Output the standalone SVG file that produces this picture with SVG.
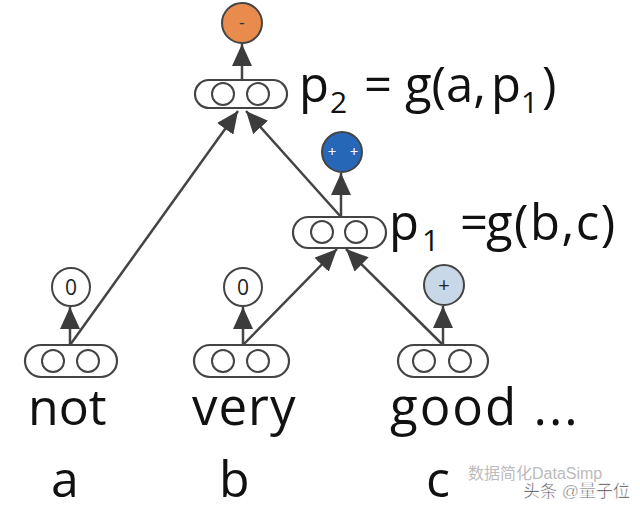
<svg xmlns="http://www.w3.org/2000/svg" width="640" height="514" viewBox="0 0 640 514">
<defs>
<style>
.cap{fill:#fff;stroke:#444;stroke-width:2.2}
.in{fill:#fff;stroke:#444;stroke-width:2}
.out{stroke:#444;stroke-width:2}
.edge{stroke:#444;stroke-width:2.5;fill:none;marker-end:url(#ah)}
.big{font-family:"Open Sans","Liberation Sans",sans-serif;fill:#111}
.sym{font-family:"Open Sans","Liberation Sans",sans-serif;text-anchor:middle}
</style>
<marker id="ah" markerUnits="userSpaceOnUse" markerWidth="22" markerHeight="20" refX="22" refY="10" orient="auto">
<path d="M0,0 L22,10 L0,20 z" fill="#3c3c3c"/>
</marker>
</defs>
<rect width="640" height="514" fill="#fff"/>
<g id="connectors">
<line class="edge" x1="70" y1="345" x2="70" y2="307"/>
<line class="edge" x1="243" y1="345" x2="243" y2="307"/>
<line class="edge" x1="443" y1="345" x2="443" y2="306"/>
<line class="edge" x1="341" y1="217" x2="341" y2="173"/>
<line class="edge" x1="242" y1="80" x2="242" y2="44"/>
<line class="edge" x1="70" y1="345" x2="238" y2="111"/>
<line class="edge" x1="341" y1="217" x2="246" y2="111"/>
<line class="edge" x1="243" y1="345" x2="337" y2="249"/>
<line class="edge" x1="443" y1="345" x2="346" y2="249"/>
</g>
<g id="p2">
<rect class="cap" x="195" y="80" width="92" height="28" rx="14"/>
<circle class="in" cx="223" cy="94" r="11"/>
<circle class="in" cx="258" cy="94" r="11"/>
</g>
<g id="out-p2">
<circle class="out" cx="242" cy="23" r="20" fill="#e98b4c"/>
<text class="sym" x="242" y="29" font-size="18" fill="#333">-</text>
</g>
<g id="p1">
<rect class="cap" x="293" y="217" width="93" height="31" rx="15.5"/>
<circle class="in" cx="322" cy="232" r="11"/>
<circle class="in" cx="356" cy="232" r="11"/>
</g>
<g id="out-p1">
<circle class="out" cx="342" cy="152" r="20" fill="#2767b7"/>
<text class="sym" x="332" y="157" font-size="15" fill="#fff">+</text>
<text class="sym" x="354" y="157" font-size="15" fill="#fff">+</text>
</g>
<g id="not">
<rect class="cap" x="25" y="345" width="92" height="32" rx="16"/>
<circle class="in" cx="53" cy="361" r="11"/>
<circle class="in" cx="88" cy="361" r="11"/>
</g>
<g id="out-not">
<circle class="out" cx="71" cy="287" r="19" fill="#fff"/>
<text class="sym" x="71" y="295" font-size="21" fill="#222">0</text>
</g>
<g id="very">
<rect class="cap" x="194" y="345" width="95" height="32" rx="16"/>
<circle class="in" cx="223" cy="361" r="11"/>
<circle class="in" cx="258" cy="361" r="11"/>
</g>
<g id="out-very">
<circle class="out" cx="243" cy="287" r="19" fill="#fff"/>
<text class="sym" x="243" y="295" font-size="21" fill="#222">0</text>
</g>
<g id="good">
<rect class="cap" x="398" y="345" width="90" height="32" rx="16"/>
<circle class="in" cx="424" cy="361" r="11"/>
<circle class="in" cx="460" cy="361" r="11"/>
</g>
<g id="out-good">
<circle class="out" cx="444" cy="285" r="20" fill="#c8d8e8"/>
<text class="sym" x="444" y="292" font-size="20" fill="#222">+</text>
</g>
<g id="labels">
<text class="big" y="102" font-size="49"><tspan x="299">p</tspan><tspan x="330" y="113" font-size="30">2</tspan><tspan x="364" y="102">=</tspan><tspan x="405">g(a,</tspan><tspan x="491">p</tspan><tspan x="521" y="113" font-size="30">1</tspan><tspan x="542" y="102">)</tspan></text>
<text class="big" y="240" font-size="49"><tspan x="389">p</tspan><tspan x="422" y="251" font-size="30">1</tspan><tspan x="460" y="240">=</tspan><tspan x="486" letter-spacing="1.5">g(b,c)</tspan></text>
<text class="big" x="28" y="425" font-size="50">not</text>
<text class="big" x="192" y="425" font-size="51" letter-spacing="1">very</text>
<text class="big" x="390" y="425" font-size="51" letter-spacing="2">good ...</text>
<text class="big" x="51" y="497" font-size="50">a</text>
<text class="big" x="219" y="497" font-size="50">b</text>
<text class="big" x="426" y="497" font-size="50">c</text>
<text x="468" y="479" font-size="16" fill="#bbb" font-family="'Liberation Sans','Noto Sans CJK SC',sans-serif">数据简化DataSimp</text>
<text x="523" y="497" font-size="17" fill="#333" stroke="#fff" stroke-width="0.6" font-family="'Liberation Sans','Noto Sans CJK SC',sans-serif">头条 @量子位</text>
</g>
</svg>
